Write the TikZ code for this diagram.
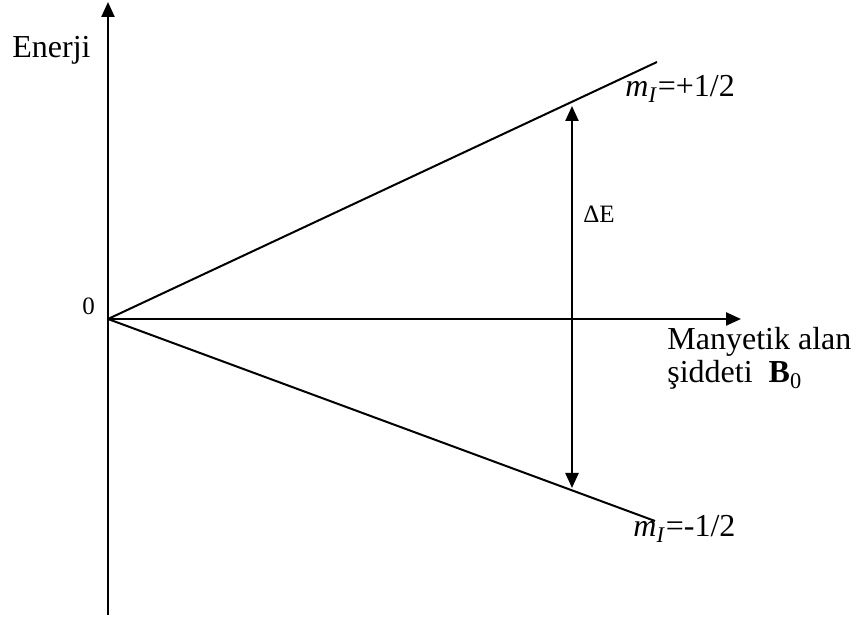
\documentclass[tikz,border=0pt]{standalone}
\usepackage{fontspec}
\setmainfont{Liberation Serif}
\usepackage{tikz}
\usetikzlibrary{positioning}
\usetikzlibrary{arrows.meta}

\begin{document}
\begin{tikzpicture}[x=0.5pt, y=-0.5pt, >={Triangle[length=7.5pt,width=6.5pt]}, every node/.style={font=\fontsize{16}{17}\selectfont, inner sep=0pt}, axis/.style={line width=1.2pt}, level/.style={line width=1pt}]

\useasboundingbox (0,0) rectangle (858,624);

\coordinate (origin) at (108,319);
\coordinate (ybottom) at (108,615);
\coordinate (ytop) at (108,2);
\coordinate (xend) at (741,319);
\coordinate (upend) at (657,62);
\coordinate (downend) at (655,521);
\coordinate (gaptop) at (572,106);
\coordinate (gapbottom) at (572,488);

\node (enerji) [anchor=base west] at (12,58) {Enerji};
\node (zero) [anchor=base west, font=\fontsize{12.5}{13}\selectfont] at (82,315) {0};
\node (deltaE) [anchor=base west, font=\fontsize{12.5}{13}\selectfont] at (583,223) {ΔE};
\node (plushalf) [anchor=base west] at (625,97) {\textit{m}\textsubscript{\textit{I}}=+1/2};
\node (minushalf) [anchor=base west] at (633,537) {\textit{m}\textsubscript{\textit{I}}=-1/2};
\node (alan) [anchor=base west] at (667,350) {Manyetik alan};
\node (siddet) [anchor=base west] at (667,383) {şiddeti~~\textbf{B}\textsubscript{0}};

\draw[->, axis] (ybottom) -- (ytop);
\draw[->, axis] (origin) -- (xend);
\draw[level] (origin) -- (upend);
\draw[level] (origin) -- (downend);
\draw[<->, axis] (gapbottom) -- (gaptop);

\end{tikzpicture}
\end{document}
